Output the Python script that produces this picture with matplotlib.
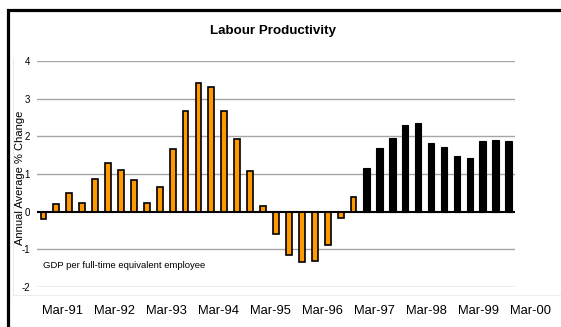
import matplotlib.pyplot as plt
from matplotlib.transforms import blended_transform_factory
from matplotlib.patches import Rectangle
from matplotlib.lines import Line2D

plt.rcParams['font.family'] = ['Liberation Sans', 'DejaVu Sans']

# Quarterly annual-average % change, Mar-91 .. Mar-00
orange_vals = [-0.20, 0.21, 0.50, 0.22, 0.88, 1.28, 1.11, 0.85, 0.22, 0.65,
               1.66, 2.67, 3.41, 3.32, 2.67, 1.92, 1.09, 0.14, -0.59, -1.15,
               -1.33, -1.31, -0.88, -0.18, 0.39]
black_vals = [1.17, 1.70, 1.95, 2.29, 2.34, 1.81, 1.71, 1.48, 1.42, 1.88,
              1.90, 1.88]
year_labels = ['Mar-91', 'Mar-92', 'Mar-93', 'Mar-94', 'Mar-95',
               'Mar-96', 'Mar-97', 'Mar-98', 'Mar-99', 'Mar-00']
y_ticks = [-2, -1, 0, 1, 2, 3, 4]

W, H = 561, 327
fig = plt.figure(figsize=(W / 100, H / 100), dpi=100)
ax = fig.add_axes([37 / W, (H - 287.1) / H, (515 - 37) / W, (287.1 - 60.9) / H])

n_orange = len(orange_vals)
x_orange = list(range(n_orange))
x_black = list(range(n_orange, n_orange + len(black_vals)))

for y in y_ticks:
    if y != 0:
        ax.axhline(y, color='#a6a6a6', lw=1.0, zorder=1)

ax.bar(x_orange, orange_vals, width=0.45, color='#ff9900',
       edgecolor='black', linewidth=1.2, zorder=3)
ax.bar(x_black, black_vals, width=0.5, color='black',
       edgecolor='black', linewidth=0.8, zorder=3)
ax.axhline(0, color='black', lw=1.5, zorder=4)

n_total = n_orange + len(black_vals)
ax.set_xlim(-0.5, n_total - 0.5)
ax.set_ylim(-2, 4)
ax.set_yticks(y_ticks)
ax.set_yticklabels([str(t) for t in y_ticks], fontsize=7)
ax.tick_params(axis='y', length=0, pad=5)
ax.set_xticks([])
for s in ax.spines.values():
    s.set_visible(False)

# year labels sit between quarters, one per four bars
trans = blended_transform_factory(ax.transData, ax.transAxes)
for i, lab in enumerate(year_labels):
    ax.text(1.45 + 4.03 * i, -0.107, lab, transform=trans, ha='center',
            va='center', fontsize=9.3, clip_on=False)

ax.text(0, -1.43, 'GDP per full-time equivalent employee', fontsize=6.8,
        ha='left', va='center')

fig.text(20 / W, (H - 178) / H, 'Annual Average % Change', rotation=90,
         ha='center', va='center', fontsize=8)
fig.text(273 / W, (H - 31) / H, 'Labour Productivity', ha='center',
         va='center', fontsize=9.6, fontweight='bold')

# faint plot-area outline and the heavy outer frame
fig.add_artist(Line2D([13 / W, 13 / W], [(H - 295) / H, (H - 58) / H],
                      color='#ededed', lw=0.8))
fig.add_artist(Line2D([13 / W, 1.0], [(H - 295) / H, (H - 295) / H],
                      color='#ededed', lw=0.8))
fig.add_artist(Rectangle((7.5 / W, -0.1), 1.2, (H - 10) / H + 0.1,
                         transform=fig.transFigure, fill=False,
                         edgecolor='black', lw=2.3))

fig.savefig('out.png', dpi=100)
